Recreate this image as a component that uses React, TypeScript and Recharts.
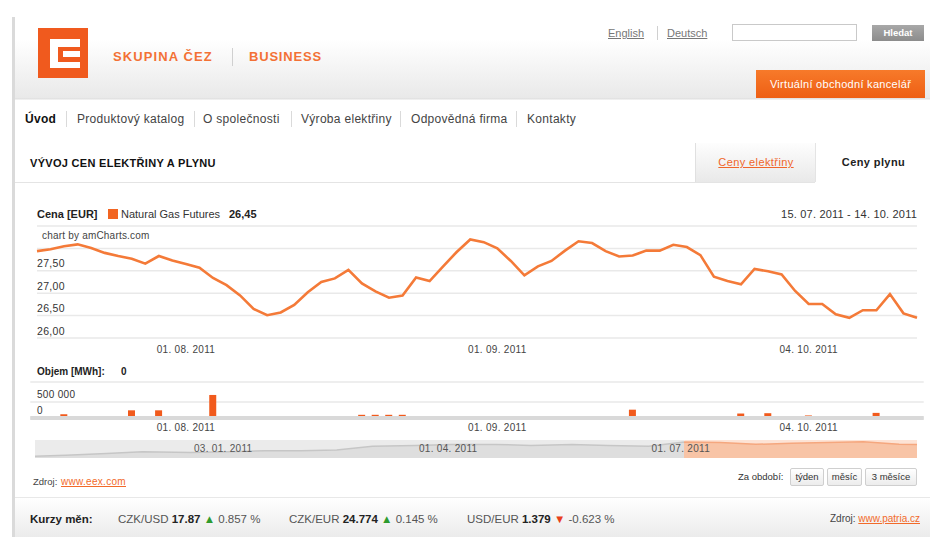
import React from "react";
import {
  Area,
  AreaChart,
  Bar,
  BarChart,
  CartesianGrid,
  Line,
  LineChart,
  ReferenceArea,
  XAxis,
  YAxis,
} from "recharts";

const FONT = '"Liberation Sans", Arial, sans-serif';
const ORANGE = "#f26522";

// trading days shown in the main chart
const dates = [
  "15. 07. 2011", "18. 07. 2011", "19. 07. 2011", "20. 07. 2011", "21. 07. 2011", "22. 07. 2011",
  "25. 07. 2011", "26. 07. 2011", "27. 07. 2011", "28. 07. 2011", "29. 07. 2011",
  "01. 08. 2011", "02. 08. 2011", "03. 08. 2011", "04. 08. 2011", "05. 08. 2011",
  "08. 08. 2011", "09. 08. 2011", "10. 08. 2011", "11. 08. 2011", "12. 08. 2011",
  "15. 08. 2011", "16. 08. 2011", "17. 08. 2011", "18. 08. 2011", "19. 08. 2011",
  "22. 08. 2011", "23. 08. 2011", "24. 08. 2011", "25. 08. 2011", "26. 08. 2011",
  "29. 08. 2011", "30. 08. 2011", "31. 08. 2011",
  "01. 09. 2011", "02. 09. 2011",
  "05. 09. 2011", "06. 09. 2011", "07. 09. 2011", "08. 09. 2011", "09. 09. 2011",
  "12. 09. 2011", "13. 09. 2011", "14. 09. 2011", "15. 09. 2011", "16. 09. 2011",
  "19. 09. 2011", "20. 09. 2011", "21. 09. 2011", "22. 09. 2011", "23. 09. 2011",
  "26. 09. 2011", "27. 09. 2011", "28. 09. 2011", "29. 09. 2011", "30. 09. 2011",
  "03. 10. 2011", "04. 10. 2011", "05. 10. 2011", "06. 10. 2011", "07. 10. 2011",
  "10. 10. 2011", "11. 10. 2011", "12. 10. 2011", "13. 10. 2011", "14. 10. 2011",
];

const gasPrice = [
  27.94, 27.98, 28.05, 28.09, 28.01, 27.9, 27.83, 27.77, 27.66, 27.83, 27.73,
  27.65, 27.57, 27.34, 27.18, 26.95, 26.65, 26.51, 26.57, 26.74, 27.02, 27.25, 27.33,
  27.52, 27.22, 27.04, 26.9, 26.95, 27.35, 27.27, 27.6, 27.92, 28.2, 28.14,
  28.0, 27.72, 27.4, 27.6, 27.72, 27.95, 28.16, 28.12, 27.94, 27.82, 27.84, 27.95,
  27.95, 28.08, 28.03, 27.85, 27.37, 27.27, 27.2, 27.54, 27.49, 27.42,
  27.05, 26.76, 26.76, 26.53, 26.45, 26.62, 26.62, 26.98, 26.55, 26.45,
];

const volume = [
  0, 0, 120000, 0, 0, 0, 0, 240000, 0, 240000, 0,
  0, 0, 720000, 0, 0, 0, 0, 0, 0, 0, 0, 0,
  0, 100000, 100000, 100000, 100000, 0, 0, 0, 0, 0, 0,
  0, 0, 0, 0, 0, 0, 0, 0, 0, 0, 260000, 0,
  0, 0, 0, 0, 0, 0, 140000, 0, 150000, 0,
  0, 80000, 0, 0, 0, 0, 160000, 0, 0, 0,
];

const dateTicks = ["01. 08. 2011", "01. 09. 2011", "04. 10. 2011"];
const priceTicks = [26, 26.5, 27, 27.5, 28, 28.5];
const priceLabelled = [26, 26.5, 27, 27.5];
const volumeTicks = [0, 500000, 1125000];
const volumeLabelled = [0, 500000];

// scrollbar (navigator) history
const navDates = [
  "03. 11. 2010", "15. 11. 2010", "01. 12. 2010", "15. 12. 2010", "03. 01. 2011",
  "17. 01. 2011", "01. 02. 2011", "15. 02. 2011", "01. 03. 2011", "15. 03. 2011",
  "01. 04. 2011", "15. 04. 2011", "02. 05. 2011", "16. 05. 2011", "01. 06. 2011",
  "15. 06. 2011", "01. 07. 2011", "15. 07. 2011", "29. 07. 2011", "12. 08. 2011",
  "26. 08. 2011", "09. 09. 2011", "23. 09. 2011", "07. 10. 2011", "14. 10. 2011",
];
const navPrice = [
  20.0, 20.5, 21.5, 22.5, 22.0, 22.5, 23.0, 23.0, 23.5, 25.5, 26.0, 26.5, 26.5,
  26.0, 26.5, 26.0, 25.5, 27.9, 27.65, 26.6, 27.2, 27.6, 28.0, 26.6, 26.45,
];
const navTicks = ["03. 01. 2011", "01. 04. 2011", "01. 07. 2011"];
const selection = ["15. 07. 2011", "14. 10. 2011"];

const navItems = [
  "Úvod", "Produktový katalog", "O společnosti", "Výroba elektřiny", "Odpovědná firma", "Kontakty",
];

const toTime = (d: string) => {
  const [dd, mm, yy] = d.split(". ").map(Number);
  return Date.UTC(yy, mm - 1, dd);
};
const fmtPrice = (v: number) => v.toFixed(2).replace(".", ",");
const fmtVolume = (v: number) => String(v).replace(/\B(?=(\d{3})+(?!\d))/g, " ");

const priceData = dates.map((d, i) => ({ date: d, price: gasPrice[i], volume: volume[i] }));
const navData = navDates.map((d, i) => ({ t: toTime(d), price: navPrice[i] }));
const navStart = navData[0].t;
const navEnd = navData[navData.length - 1].t;
const selStart = toTime(selection[0]);
const selEnd = toTime(selection[1]);
const navTickTimes = navTicks.map(toTime);
const selOffset = (selStart - navStart) / (navEnd - navStart);

const LABEL_X = 37;

function DateTick(props: any) {
  const { x, y, payload, dy } = props;
  if (!dateTicks.includes(payload.value)) return <g />;
  return (
    <text x={x} y={y} dy={dy} textAnchor="middle" fontSize={10} letterSpacing={0.3} fill="#444" fontFamily={FONT}>
      {payload.value}
    </text>
  );
}

function PriceTick(props: any) {
  const { y, payload } = props;
  if (!priceLabelled.includes(payload.value)) return <g />;
  return (
    <text x={LABEL_X} y={y - 3.5} fontSize={10.5} letterSpacing={0.3} fill="#333" fontFamily={FONT}>
      {fmtPrice(payload.value)}
    </text>
  );
}

function VolumeTick(props: any) {
  const { y, payload } = props;
  if (!volumeLabelled.includes(payload.value)) return <g />;
  return (
    <text x={LABEL_X} y={y - 4} fontSize={10} letterSpacing={0.3} fill="#333" fontFamily={FONT}>
      {fmtVolume(payload.value)}
    </text>
  );
}

function NavTick(props: any) {
  const { x, y, payload } = props;
  const i = navTickTimes.indexOf(payload.value);
  if (i < 0) return <g />;
  return (
    <text x={x} y={y} dx={3} dy={-14} textAnchor="start" fontSize={10} letterSpacing={0.3} fill="#555" fontFamily={FONT}>
      {navTicks[i]}
    </text>
  );
}

const abs = (left: number, top: number, extra: React.CSSProperties = {}): React.CSSProperties => ({
  position: "absolute",
  left,
  top,
  whiteSpace: "nowrap",
  ...extra,
});

export default function App() {
  const navX = [25, 77, 203, 301, 411, 527];
  const sepX = [66, 194, 291, 400, 516];
  const last = gasPrice[gasPrice.length - 1];

  return (
    <div
      style={{
        position: "relative",
        width: 930,
        height: 537,
        overflow: "hidden",
        background: "#fff",
        fontFamily: FONT,
        color: "#333",
      }}
    >
      <style>{`body{margin:0}`}</style>

      {/* header */}
      <div
        style={abs(15, 0, {
          width: 915,
          height: 98,
          background: "linear-gradient(180deg,#ffffff 0%,#ffffff 40%,#e9e9e9 100%)",
        })}
      />
      <div style={abs(15, 98, { width: 915, height: 2, background: "linear-gradient(180deg,#dcdcdc,#f6f6f6)" })} />
      <div style={abs(12, 17, { width: 3, height: 520, background: "#dadada" })} />

      <div style={abs(38, 28, { width: 50, height: 50, background: "#f05a1e" })}>
        <div style={abs(12, 11, { width: 30, height: 29, background: "#fff" })} />
        <div style={abs(20, 19, { width: 22, height: 15, background: "#f05a1e" })} />
        <div style={abs(25, 23, { width: 17, height: 6, background: "#fff" })} />
      </div>
      <div style={abs(113, 49, { fontSize: 13, fontWeight: 700, color: "#f37135", lineHeight: "16px", letterSpacing: 1.1 })}>
        SKUPINA ČEZ
      </div>
      <div style={abs(232, 48, { width: 1, height: 18, background: "#d0d0d0" })} />
      <div style={abs(249, 49, { fontSize: 13, fontWeight: 700, color: "#f37135", lineHeight: "16px", letterSpacing: 0.8 })}>
        BUSINESS
      </div>

      <div style={abs(608, 27, { fontSize: 11, color: "#777", textDecoration: "underline", lineHeight: "12px" })}>English</div>
      <div style={abs(657, 26, { width: 1, height: 14, background: "#d0d0d0" })} />
      <div style={abs(667, 27, { fontSize: 11, color: "#777", textDecoration: "underline", lineHeight: "12px" })}>Deutsch</div>
      <div style={abs(732, 24, { width: 123, height: 15, border: "1px solid #c9c9c9", background: "#fff" })} />
      <div
        style={abs(872, 25, {
          width: 52,
          height: 16,
          background: "linear-gradient(180deg,#a8a8a8,#8c8c8c)",
          color: "#fff",
          fontSize: 9.5,
          fontWeight: 700,
          lineHeight: "16px",
          textAlign: "center",
        })}
      >
        Hledat
      </div>
      <div
        style={abs(756, 70, {
          width: 169,
          height: 28,
          background: "linear-gradient(180deg,#f77a2a,#ee5f14)",
          color: "#fff",
          fontSize: 11,
          letterSpacing: 0.3,
          lineHeight: "28px",
          textAlign: "center",
        })}
      >
        Virtuální obchodní kancelář
      </div>

      {/* navigation */}
      {navItems.map((t, i) => (
        <div
          key={t}
          style={abs(navX[i], 112, {
            fontSize: 12,
            letterSpacing: 0.3,
            lineHeight: "14px",
            color: i === 0 ? "#111" : "#444",
            fontWeight: i === 0 ? 700 : 400,
          })}
        >
          {t}
        </div>
      ))}
      {sepX.map((x) => (
        <div key={x} style={abs(x, 111, { width: 1, height: 16, background: "#dadada" })} />
      ))}

      {/* section title + tabs */}
      <div style={abs(30, 157, { fontSize: 11, fontWeight: 700, color: "#111", lineHeight: "12px", letterSpacing: 0.3 })}>
        VÝVOJ CEN ELEKTŘINY A PLYNU
      </div>
      <div style={abs(15, 182, { width: 800, height: 1, background: "#e4e4e4" })} />
      <div
        style={abs(695, 143, {
          width: 120,
          height: 39,
          background: "linear-gradient(180deg,#fdfdfd,#e9e9e9)",
          borderLeft: "1px solid #e0e0e0",
          textAlign: "center",
          lineHeight: "39px",
          fontSize: 11,
          letterSpacing: 0.4,
          color: "#f0662a",
          textDecoration: "underline",
        })}
      >
        Ceny elektřiny
      </div>
      <div
        style={abs(815, 143, {
          width: 115,
          height: 39,
          background: "#fff",
          borderLeft: "1px solid #e4e4e4",
          textAlign: "center",
          lineHeight: "39px",
          fontSize: 11,
          letterSpacing: 0.4,
          fontWeight: 700,
          color: "#222",
        })}
      >
        Ceny plynu
      </div>

      {/* chart header */}
      <div style={abs(37, 208, { fontSize: 11, fontWeight: 700, lineHeight: "12px", color: "#222" })}>Cena [EUR]</div>
      <div style={abs(108, 209, { width: 10, height: 10, background: ORANGE })} />
      <div style={abs(121, 208, { fontSize: 11, lineHeight: "12px", color: "#333" })}>Natural Gas Futures</div>
      <div style={abs(229, 208, { fontSize: 11, fontWeight: 700, lineHeight: "12px", color: "#222" })}>
        {fmtPrice(last)}
      </div>
      <div
        style={abs(0, 208, {
          width: 917,
          textAlign: "right",
          fontSize: 11,
          letterSpacing: 0.2,
          lineHeight: "12px",
          color: "#333",
        })}
      >
        {selection[0]} - {selection[1]}
      </div>

      {/* price chart */}
      <div style={abs(0, 220)}>
        <LineChart width={930} height={145} data={priceData} margin={{ top: 6, right: 13, bottom: 0, left: 36 }}>
          <CartesianGrid vertical={false} stroke="#e9e9e9" strokeWidth={1.5} />
          <XAxis
            dataKey="date"
            interval={0}
            height={27}
            axisLine={false}
            tickLine={false}
            tick={(p: any) => <DateTick {...p} dy={7} />}
          />
          <YAxis
            width={1}
            domain={[26, 28.5]}
            ticks={priceTicks}
            interval={0}
            axisLine={false}
            tickLine={false}
            tick={(p: any) => <PriceTick {...p} />}
          />
          <Line
            type="linear"
            dataKey="price"
            stroke="#f47a38"
            strokeWidth={2.6}
            dot={false}
            isAnimationActive={false}
          />
        </LineChart>
      </div>
      <div style={abs(42, 230, { fontSize: 10, letterSpacing: 0.2, color: "#444", lineHeight: "11px" })}>
        chart by amCharts.com
      </div>

      {/* volume */}
      <div style={abs(37, 366, { fontSize: 10, fontWeight: 700, lineHeight: "12px", color: "#222" })}>Objem [MWh]:</div>
      <div style={abs(121, 366, { fontSize: 10, fontWeight: 700, lineHeight: "12px", color: "#222" })}>0</div>
      <div style={abs(0, 376)}>
        <BarChart width={930} height={62} data={priceData} margin={{ top: 6, right: 6.25, bottom: 0, left: 29.25 }}>
          <CartesianGrid vertical={false} stroke="#e9e9e9" strokeWidth={1.5} />
          <XAxis
            dataKey="date"
            interval={0}
            height={20}
            axisLine={{ stroke: "#d9d9d9", strokeWidth: 4 }}
            tickLine={false}
            tick={(p: any) => <DateTick {...p} dy={5} />}
          />
          <YAxis
            width={1}
            domain={[0, 1125000]}
            ticks={volumeTicks}
            interval={0}
            axisLine={false}
            tickLine={false}
            tick={(p: any) => <VolumeTick {...p} />}
          />
          <Bar dataKey="volume" fill="#f15a1c" barSize={7} isAnimationActive={false} />
        </BarChart>
      </div>

      {/* scrollbar navigator */}
      <div style={abs(0, 440)}>
        <AreaChart width={930} height={19} data={navData} margin={{ top: 0, right: 13, bottom: 0, left: 35 }}>
          <defs>
            <linearGradient id="navFill" x1="0" y1="0" x2="1" y2="0">
              <stop offset={0} stopColor="#dedede" />
              <stop offset={selOffset} stopColor="#dedede" />
              <stop offset={selOffset} stopColor="#f8c4a6" />
              <stop offset={1} stopColor="#f8c4a6" />
            </linearGradient>
            <linearGradient id="navStroke" x1="0" y1="0" x2="1" y2="0">
              <stop offset={0} stopColor="#c6c6c6" />
              <stop offset={selOffset} stopColor="#c6c6c6" />
              <stop offset={selOffset} stopColor="#f5a77e" />
              <stop offset={1} stopColor="#f5a77e" />
            </linearGradient>
          </defs>
          <ReferenceArea x1={navStart} x2={selStart} fill="#ebebeb" fillOpacity={1} stroke="none" />
          <ReferenceArea x1={selStart} x2={selEnd} fill="#fde3d5" fillOpacity={1} stroke="none" />
          <XAxis
            type="number"
            dataKey="t"
            domain={["dataMin", "dataMax"]}
            ticks={navTickTimes}
            interval={0}
            height={1}
            axisLine={false}
            tickLine={false}
            tick={(p: any) => <NavTick {...p} />}
          />
          <YAxis hide domain={[19, 29]} />
          <Area
            type="linear"
            dataKey="price"
            stroke="url(#navStroke)"
            strokeWidth={1.5}
            fill="url(#navFill)"
            fillOpacity={1}
            isAnimationActive={false}
          />
        </AreaChart>
      </div>

      {/* source + period buttons */}
      <div style={abs(33, 476, { fontSize: 9.5, lineHeight: "12px", color: "#444" })}>Zdroj:</div>
      <div style={abs(61, 476, { fontSize: 10, letterSpacing: 0.3, lineHeight: "12px", color: "#f26a2a", textDecoration: "underline" })}>
        www.eex.com
      </div>
      <div style={abs(738, 471, { fontSize: 9.5, lineHeight: "12px", color: "#333" })}>Za období:</div>
      {[
        ["týden", 790, 34],
        ["měsíc", 827, 35],
        ["3 měsíce", 865, 52],
      ].map(([t, x, w]) => (
        <div
          key={t as string}
          style={abs(x as number, 468, {
            width: (w as number) - 2,
            height: 16,
            border: "1px solid #cfcfcf",
            borderRadius: 2,
            background: "linear-gradient(180deg,#ffffff,#ececec)",
            fontSize: 9.5,
            lineHeight: "16px",
            textAlign: "center",
            color: "#333",
          })}
        >
          {t}
        </div>
      ))}

      {/* currency bar */}
      <div
        style={abs(15, 497, {
          width: 915,
          height: 40,
          borderTop: "1px solid #e8e8e8",
          background: "linear-gradient(180deg,#ffffff,#ebebeb)",
        })}
      />
      <div style={abs(30, 512, { fontSize: 11.5, fontWeight: 700, lineHeight: "14px", color: "#222" })}>Kurzy měn:</div>
      <div style={abs(118, 512, { fontSize: 11.5, lineHeight: "14px", color: "#555" })}>
        CZK/USD <b style={{ color: "#222" }}>17.87</b> <span style={{ color: "#2e9b2e" }}>▲</span> 0.857 %
      </div>
      <div style={abs(289, 512, { fontSize: 11.5, lineHeight: "14px", color: "#555" })}>
        CZK/EUR <b style={{ color: "#222" }}>24.774</b> <span style={{ color: "#2e9b2e" }}>▲</span> 0.145 %
      </div>
      <div style={abs(467, 512, { fontSize: 11.5, lineHeight: "14px", color: "#555" })}>
        USD/EUR <b style={{ color: "#222" }}>1.379</b> <span style={{ color: "#e8401a" }}>▼</span> -0.623 %
      </div>
      <div style={abs(0, 512, { width: 920, textAlign: "right", fontSize: 10, lineHeight: "14px", color: "#444" })}>
        Zdroj: <span style={{ color: "#f26a2a", textDecoration: "underline" }}>www.patria.cz</span>
      </div>
    </div>
  );
}
